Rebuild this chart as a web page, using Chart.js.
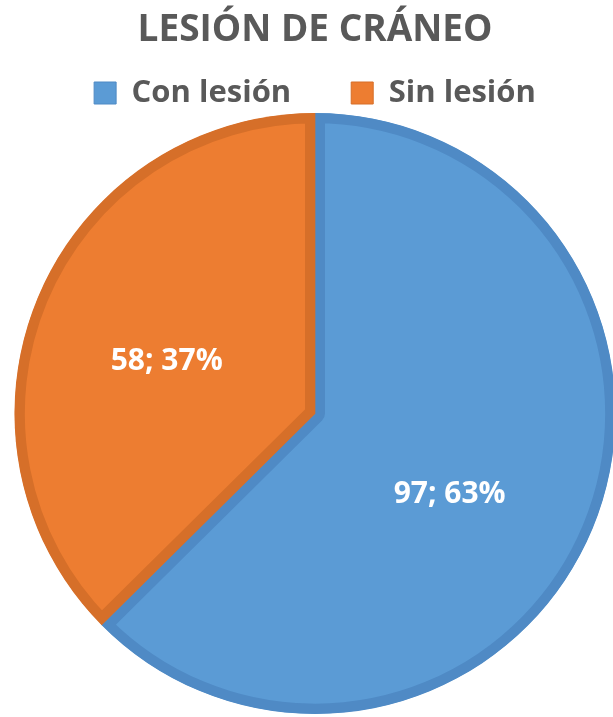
<!DOCTYPE html>
<html>
<head>
<meta charset="utf-8">
<script src="https://cdn.jsdelivr.net/npm/chart.js@4"></script>
<style>
  html, body { margin: 0; padding: 0; background: #ffffff; overflow: hidden; }
  #wrap { position: absolute; left: 0; top: 0; width: 630px; height: 717px; }
</style>
</head>
<body>
<div id="wrap"><canvas id="pieChart"></canvas></div>
<script>
const TITLE = "LESIÓN DE CRÁNEO";
const categories = ["Con lesión", "Sin lesión"];
const values = [97, 58];
const fillColors = ["#5b9bd5", "#ed7d31"];
const borderColors = ["#4f8ac5", "#d66f29"];

const FONT = "'Open Sans', 'DejaVu Sans', sans-serif";
const TEXT_GRAY = "#595959";

// labels sit a bit off the slice middle, like Excel's best fit
const LABEL_RADIUS = 0.523;
const labelAngleShift = [8.4, -3.3];

const sliceLabels = {
  id: "sliceLabels",
  afterDatasetsDraw: (chart) => {
    const { ctx } = chart;
    const meta = chart.getDatasetMeta(0);
    const total = values.reduce((sum, v) => sum + v, 0);
    ctx.save();
    ctx.font = `bold 30px ${FONT}`;
    ctx.fillStyle = "#ffffff";
    ctx.textAlign = "center";
    ctx.textBaseline = "middle";
    meta.data.forEach((arc, i) => {
      const { x, y, startAngle, endAngle, outerRadius } = arc.getProps(
        ["x", "y", "startAngle", "endAngle", "outerRadius"],
        true
      );
      const mid = (startAngle + endAngle) / 2 + (labelAngleShift[i] * Math.PI) / 180;
      const r = outerRadius * LABEL_RADIUS;
      const pct = Math.round((values[i] / total) * 100);
      ctx.fillText(`${values[i]}; ${pct}%`, x + Math.cos(mid) * r, y + Math.sin(mid) * r);
    });
    ctx.restore();
  },
};

// the legend keeps a 10px tail under its row; trim it so the pie can sit higher
const legendTrim = {
  id: "legendTrim",
  beforeLayout: (chart) => {
    const legend = chart.legend;
    if (legend && !legend._trimmed) {
      const origFit = legend.fit.bind(legend);
      legend.fit = function () {
        origFit();
        this.height -= 5.5;
      };
      legend._trimmed = true;
    }
  },
};

const ctx = document.getElementById("pieChart").getContext("2d");
const pieChart = new Chart(ctx, {
  type: "pie",
  data: {
    labels: categories,
    datasets: [
      {
        data: values,
        backgroundColor: fillColors,
        borderColor: borderColors,
        borderWidth: 10,
        borderAlign: "inner",
      },
    ],
  },
  options: {
    responsive: true,
    maintainAspectRatio: false,
    animation: false,
    layout: { padding: { top: 0, bottom: 3, left: 0, right: 0 } },
    plugins: {
      title: {
        display: true,
        text: TITLE,
        color: TEXT_GRAY,
        font: { family: FONT, size: 37, weight: "bold" },
        padding: { top: 7.8, bottom: -34.7 },
      },
      legend: {
        position: "top",
        labels: {
          color: TEXT_GRAY,
          font: { family: FONT, size: 31, weight: "bold" },
          boxWidth: 22,
          boxHeight: 22,
          padding: 60,
          generateLabels: () =>
            categories.map((text, i) => ({
              text,
              fillStyle: fillColors[i],
              strokeStyle: borderColors[i],
              lineWidth: 1,
              fontColor: TEXT_GRAY,
              hidden: false,
              index: i,
            })),
        },
      },
      tooltip: { enabled: false },
    },
  },
  plugins: [sliceLabels, legendTrim],
});
</script>
</body>
</html>
